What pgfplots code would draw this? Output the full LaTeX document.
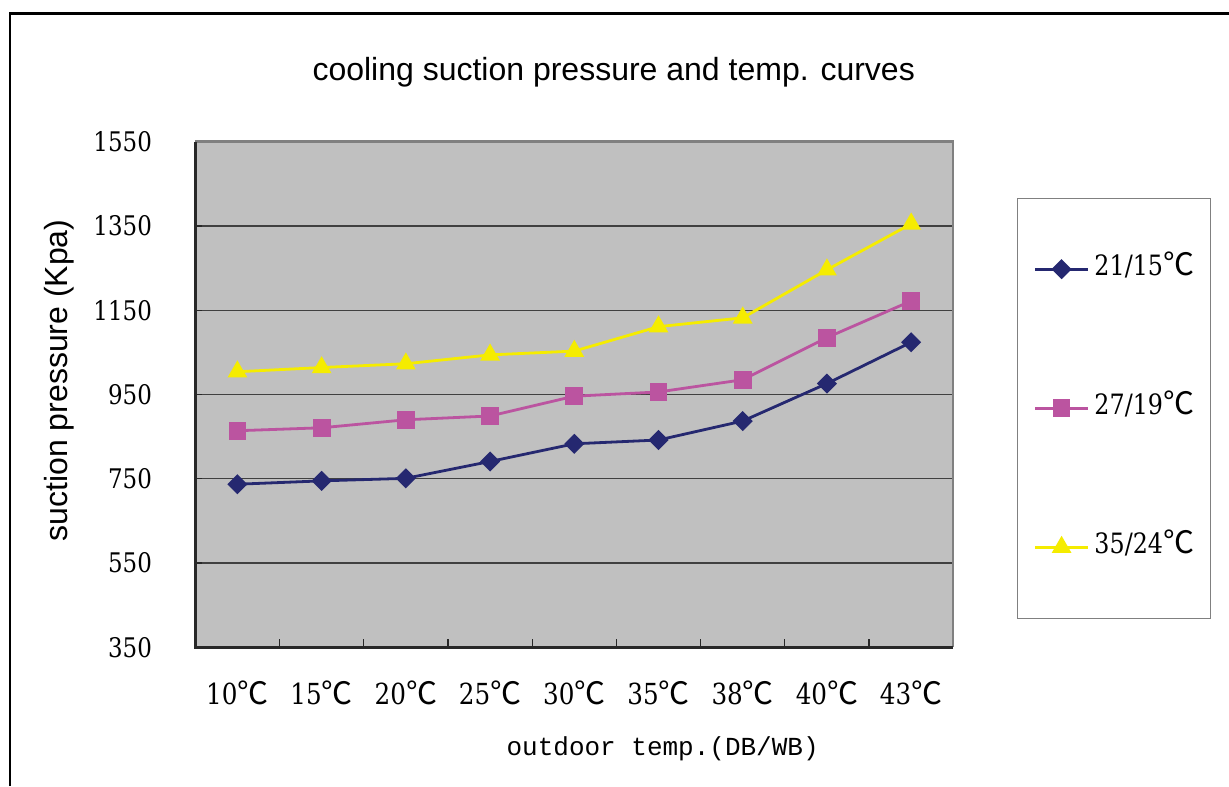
\documentclass[border=0pt]{standalone}
\usepackage{fontspec}
\setmainfont{Liberation Sans}
\newfontfamily\tickfont[FakeStretch=0.85]{DejaVu Serif}
\newfontfamily\monofont{Liberation Mono}
\newfontfamily\cjk{Noto Sans CJK SC}
\usepackage{pgfplots}
\pgfplotsset{compat=1.18}
\definecolor{cblue}{RGB}{37,40,112}
\definecolor{cpink}{RGB}{187,84,160}
\definecolor{cyellow}{RGB}{245,236,0}
\definecolor{plotbg}{RGB}{192,192,192}
\definecolor{gridc}{RGB}{64,64,64}
\definecolor{darkax}{RGB}{40,40,40}
\definecolor{lightax}{RGB}{128,128,128}
\newcommand\tf{\tickfont\fontsize{13.5}{13.5}\selectfont}
\newcommand\tfx{\tickfont\fontsize{14.5}{14.5}\selectfont}
\newcommand\dc{{\cjk\fontsize{15.5}{15.5}\selectfont ℃}}
\begin{document}
\begin{tikzpicture}
\path[use as bounding box] (0,0) rectangle (614.5pt,393pt);
\draw[line width=1.4pt] (5pt,0) -- (5pt,386.25pt) -- (614.5pt,386.25pt);
\begin{axis}[
  at={(97.65pt,69.35pt)}, anchor=south west,
  scale only axis, width=379pt, height=252.8pt,
  xmin=-0.5, xmax=8.5, ymin=350, ymax=1550,
  ytick={350,550,...,1550},
  xtick={0,...,8},
  xticklabels={10\dc,15\dc,20\dc,25\dc,30\dc,35\dc,38\dc,40\dc,43\dc},
  minor xtick={0.5,1.5,...,7.5},
  major x tick style={draw=none},
  minor x tick style={draw=darkax, line width=0.6pt},
  minor tick length=4pt,
  major tick length=3.5pt,
  y tick style={draw=darkax, line width=0.6pt},
  tick align=inside,
  xtick pos=bottom, ytick pos=left,
  ymajorgrids,
  major grid style={draw=gridc, line width=0.7pt},
  axis background/.style={fill=plotbg},
  axis line style={draw=none},
  /pgf/number format/assume math mode=true,
  /pgf/number format/1000 sep={},
  yticklabel style={font=\tf, inner sep=0pt, anchor=east, xshift=-21.5pt},
  xticklabel style={font=\tfx, inner sep=0pt, anchor=center, yshift=-23pt},
  title={cooling suction pressure and temp. curves},
  title style={font=\fontsize{16}{16}\selectfont, at={(axis description cs:0.552,1.1146)}, anchor=center},
  ylabel={suction pressure (Kpa)},
  ylabel style={font=\fontsize{16}{16}\selectfont, at={(axis description cs:-0.1792,0.5277)}, anchor=center},
  xlabel={outdoor temp.(DB/WB)},
  xlabel style={font=\monofont\fontsize{13}{13}\selectfont, at={(axis description cs:0.6166,0)}, anchor=center, yshift=-50.5pt},
  clip=false,
  legend image code/.code={\draw[mark repeat=2,mark phase=2] plot coordinates {(0pt,0pt)(13.25pt,0pt)(26.5pt,0pt)};},
  legend style={at={(axis description cs:1.0843,0.8893)}, anchor=north west,
    draw=lightax, line width=0.5pt, fill=white, inner xsep=8pt, inner ysep=28.75pt,
    row sep=56pt, column sep=2.5pt, font=\tickfont\fontsize{14}{14}\selectfont,
    nodes={inner sep=0pt, text height=10pt, text depth=3.5pt}},
  legend cell align=left,
  after end axis/.code={
    \draw[lightax, line width=1.2pt] (rel axis cs:0,1) -- (rel axis cs:1,1) -- (rel axis cs:1,0);
    \draw[darkax, line width=1.2pt] (rel axis cs:0,1) -- (rel axis cs:0,0) -- (rel axis cs:1,0);
  },
]
\addplot[cblue, line width=1.4pt, mark=square*, mark size=2.85pt, mark options={solid, rotate=45, fill=cblue}]
  coordinates {(0,737)(1,745)(2,751)(3,791)(4,833)(5,842)(6,887)(7,976)(8,1074)};
\addlegendentry{21/15\dc}
\addplot[cpink, line width=1.4pt, mark=square*, mark size=3.75pt, mark options={solid, fill=cpink}]
  coordinates {(0,864)(1,871)(2,890)(3,899)(4,946)(5,956)(6,985)(7,1085)(8,1172)};
\addlegendentry{27/19\dc}
\addplot[cyellow, line width=1.4pt, mark=triangle*, mark size=4.3pt, mark options={solid, fill=cyellow}]
  coordinates {(0,1004)(1,1014)(2,1023)(3,1044)(4,1053)(5,1111)(6,1132)(7,1246)(8,1355)};
\addlegendentry{35/24\dc}
\end{axis}
\end{tikzpicture}
\end{document}
